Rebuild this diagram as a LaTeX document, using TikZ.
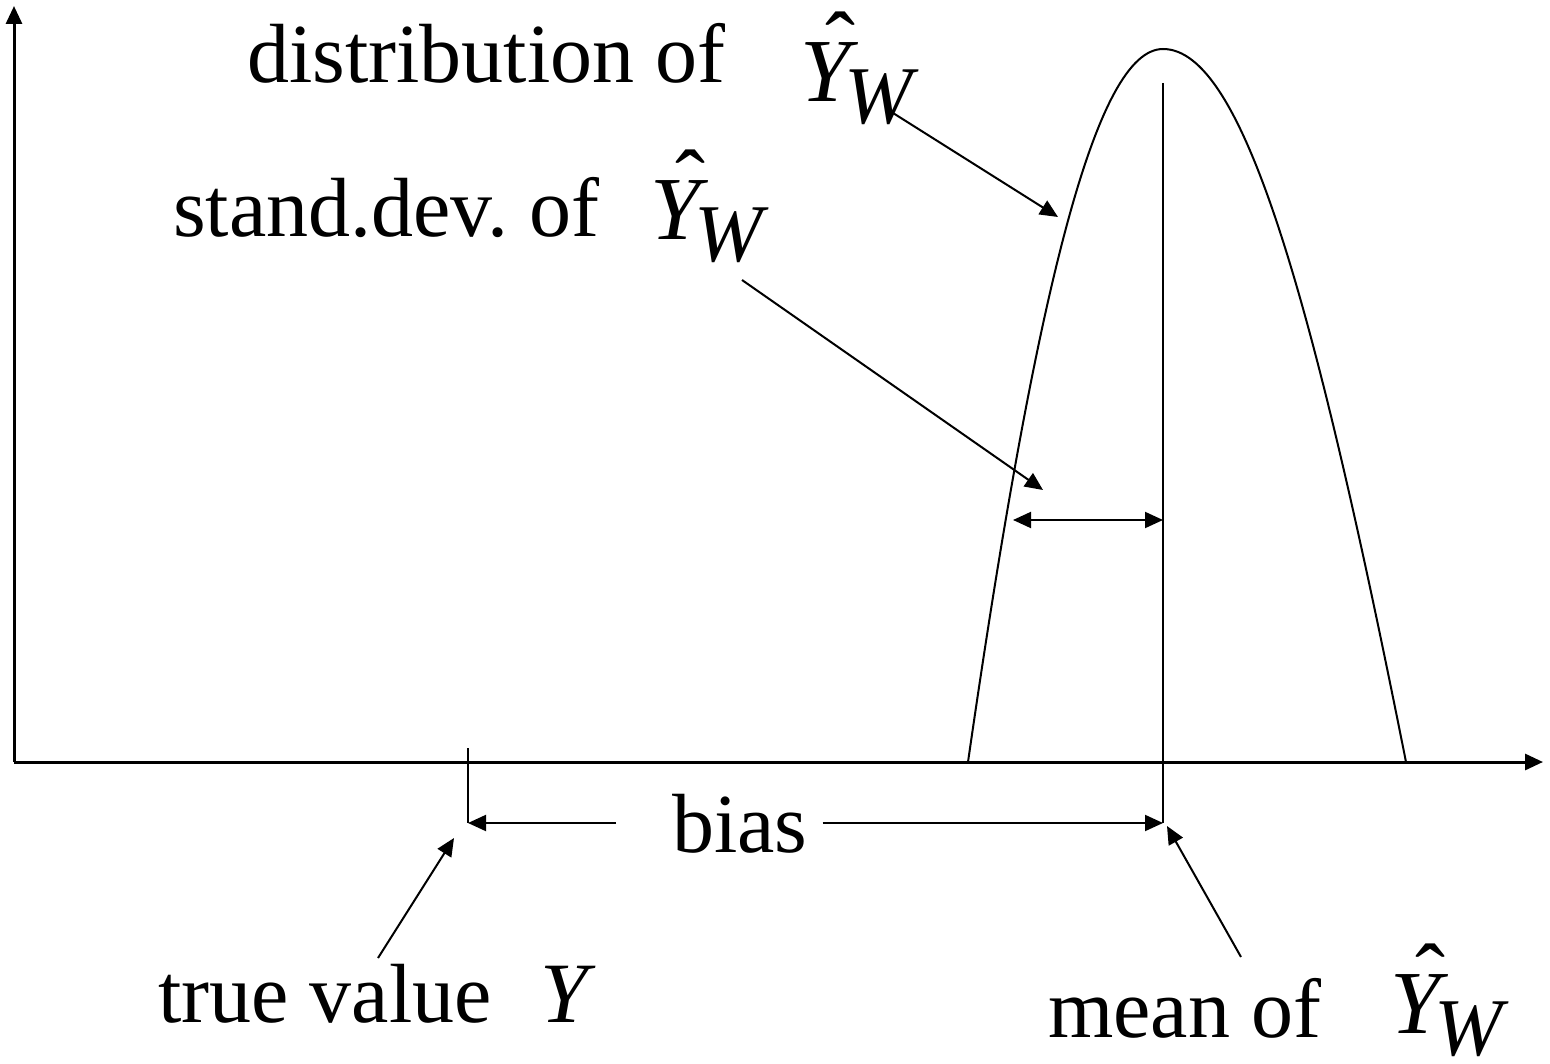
\documentclass[tikz,border=0pt]{standalone}
\usepackage{fontspec}
\setmainfont{Liberation Serif}
\usetikzlibrary{arrows.meta}
\frenchspacing
\newcommand{\yhw}{{\fontsize{90}{100}\selectfont\rlap{\kern25pt\raisebox{27pt}{ˆ}}\itshape Y}\kern-6pt\raisebox{-22pt}{\fontsize{82}{96}\selectfont\itshape W}}
\newcommand{\yit}{{\fontsize{86}{100}\selectfont\itshape Y}}
\begin{document}
\begin{tikzpicture}[x=1pt,y=-1pt,
  lbl/.style={anchor=base west,inner sep=0pt,font=\fontsize{84}{98}\selectfont},
  axis/.style={line width=3pt,-{Triangle[length=18pt,width=16pt]}},
  conn/.style={line width=2pt,-{Triangle[length=18pt,width=16pt]}},
  dconn/.style={line width=2pt,{Triangle[length=18pt,width=16pt]}-{Triangle[length=18pt,width=16pt]}},
  plain/.style={line width=2pt}]
\useasboundingbox (0,0) rectangle (1550,1064);
% axes
\coordinate (O) at (14,762);
\coordinate (ytip) at (14,6);
\coordinate (xtip) at (1543,762);
\draw[axis] (O) -- (ytip);
\draw[axis] (O) -- (xtip);
% distribution curve
\coordinate (cl) at (968,762);
\coordinate (cp) at (1163,49);
\coordinate (cr) at (1406,762);
\draw[plain] (cl) .. controls (1036,290) and (1096,49) .. (cp)
  .. controls (1242,49) and (1312,290) .. (cr);
% mean line
\coordinate (mtop) at (1163,83);
\coordinate (mbot) at (1163,823);
\draw[plain] (mtop) -- (mbot);
% true value tick
\coordinate (ttop) at (468,748);
\coordinate (tbot) at (468,823);
\draw[plain] (ttop) -- (tbot);
% std dev double arrow
\coordinate (sdl) at (1013,520);
\coordinate (sdr) at (1163,520);
\draw[dconn] (sdl) -- (sdr);
% bias
\node[lbl] (bias) at (672,852) {bias};
\draw[conn] (bias.west |- tbot) ++(-56,0) coordinate (bl) -- (tbot);
\draw[conn] (bias.east |- mbot) ++(15,0) coordinate (br) -- (mbot);
% labels
\node[lbl] (dist) at (247,83) {distribution of};
\node[lbl] (distY) at (800,102) {\yhw};
\node[lbl] (sd) at (173,237) {stand.dev. of};
\node[lbl] (sdY) at (650,240) {\yhw};
\node[lbl] (tv) at (158,1022) {true value};
\node[lbl] (tvY) at (540,1022) {\yit};
\node[lbl] (mo) at (1048,1037) {mean of};
\node[lbl] (moY) at (1390,1033) {\yhw};
% pointer arrows
\coordinate (a1s) at (893,113);
\coordinate (a1e) at (1058,217);
\draw[conn] (a1s) -- (a1e);
\coordinate (a2s) at (742,280);
\coordinate (a2e) at (1043,490);
\draw[conn] (a2s) -- (a2e);
\coordinate (a3s) at (378,958);
\coordinate (a3e) at (454,838);
\draw[conn] (a3s) -- (a3e);
\coordinate (a4s) at (1241,957);
\coordinate (a4e) at (1167,826);
\draw[conn] (a4s) -- (a4e);
\end{tikzpicture}
\end{document}
